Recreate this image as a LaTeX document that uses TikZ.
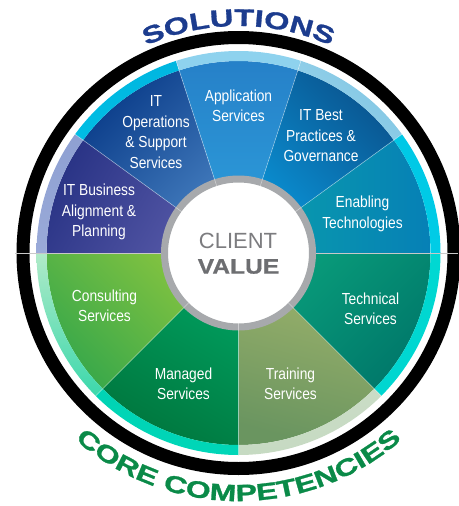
\documentclass[tikz,border=0pt]{standalone}
\usepackage{fontspec}
\setmainfont{Liberation Sans}
\newfontfamily\condfont[FakeStretch=0.86]{Liberation Sans}
\newfontfamily\extfont[FakeStretch=1.36,FakeBold=1.2]{Liberation Sans}
\newfontfamily\valfont[FakeStretch=1.17,FakeBold=0.8]{Liberation Sans}
\usetikzlibrary{decorations.text}
\definecolor{solnavy}{HTML}{1C3C8E}
\definecolor{coregreen}{HTML}{0A8A48}
\definecolor{ringgray}{HTML}{A7A9AC}
\definecolor{cvgray}{HTML}{6D6E71}
\definecolor{hline}{HTML}{C8C8C8}
\begin{document}
\begin{tikzpicture}[x=1pt,y=1pt,
  lbl/.style={text=white, align=center, font=\condfont\fontsize{16}{20.5}\selectfont, inner sep=0pt},
  sep/.style={white, opacity=0.45, line width=0.6pt}]
\useasboundingbox (0,0) rectangle (458,-506);
\coordinate (O) at (238.5,-253);
\begin{scope}[shift={(O)}]
  % black ring
  \fill[black, even odd rule] (0,0) circle[radius=222pt] (0,0) circle[radius=209pt];
  % wedges: start/end angle, top colour, bottom colour, shading angle
  \foreach \a/\b/\ca/\cb/\ang in {
      144/180/2A3486/5B5DAB/60,
      108/144/0B3D8A/4A84C4/45,
      72/108/2680C8/2DA2DE/0,
      36/72/0A5590/0A98DC/-45,
      0/36/0AA0AA/0680B6/90,
      -45/0/0AA07C/00786A/45,
      -90/-45/A2B56C/6A9560/-15,
      -135/-90/00A262/00773E/-30,
      -180/-135/8CC63F/38A84A/-45}{
    \definecolor{wa}{HTML}{\ca}\definecolor{wb}{HTML}{\cb}
    \shade[top color=wa, bottom color=wb, shading angle=\ang]
      (0,0) -- (\a:192pt) arc[start angle=\a, end angle=\b, radius=192pt] -- cycle;
  }
  % outer rim
  \foreach \a/\b/\ca/\cb/\ang in {
      144/180/8EA0D2/9AAAD8/0,
      108/144/00B6E0/00BEE4/0,
      72/108/8ED2EE/8ED2EE/0,
      36/72/7EC4E2/9AD4EC/-45,
      0/36/00C8E6/00CCE6/0,
      -45/0/00D8D2/00D6D0/0,
      -90/-45/CADCC6/C6DAC2/0,
      -135/-90/00D4B4/00D6B8/0,
      -180/-135/B0EAC8/3CD8AC/0}{
    \definecolor{wa}{HTML}{\ca}\definecolor{wb}{HTML}{\cb}
    \shade[top color=wa, bottom color=wb, shading angle=\ang]
      (\a:192pt) arc[start angle=\a, end angle=\b, radius=192pt]
      -- (\b:202pt) arc[start angle=\b, end angle=\a, radius=202pt] -- cycle;
  }
  % centre
  \fill[white] (0,0) circle[radius=71pt];
  \draw[ringgray, line width=7pt] (0,0) circle[radius=74pt];
  % separators
  \foreach \a in {36,72,108,144,-45,-90,-135}
    \draw[sep] (\a:70pt) -- (\a:202pt);
\end{scope}
% horizontal line (hidden behind the centre circle)
\coordinate (hl) at (15,-253);
\coordinate (hr) at (458,-253);
\coordinate (hcl) at (161,-253);
\coordinate (hcr) at (316,-253);
\draw[hline, line width=0.6pt] (hl) -- (hcl);
\draw[hline, line width=0.6pt] (hcr) -- (hr);
% labels
\node[lbl] (itops)   at (156,-132)   {IT\\Operations\\\& Support\\Services};
\node[lbl] (itbiz)   at (99,-212)    {IT Business\\Alignment \&\\Planning};
\node[lbl] (app)     at (238.5,-106) {Application\\Services};
\node[lbl] (itbest)  at (321,-136)   {IT Best\\Practices \&\\Governance};
\node[lbl] (enab)    at (362.5,-214) {Enabling\\Technologies};
\node[lbl] (tech)    at (370.5,-309) {Technical\\Services};
\node[lbl] (train)   at (290.5,-384) {Training\\Services};
\node[lbl] (managed) at (183.5,-384) {Managed\\Services};
\node[lbl] (consult) at (104.5,-306) {Consulting\\Services};
% centre text
\node[text=cvgray!90, font=\fontsize{22}{22}\selectfont, inner sep=0pt] (client) at (238,-241) {CLIENT};
\node[text=cvgray, font=\valfont\bfseries\fontsize{21}{21}\selectfont, inner sep=0pt] (value) at (238.5,-266.5) {VALUE};
% arc titles
\path[decorate, decoration={text along path, text align=center,
   text={|\extfont\bfseries\fontsize{24}{24}\selectfont\color{solnavy}|SOLUTIONS}}]
   (O) ++(150:227pt) arc[start angle=150, end angle=30, radius=227pt];
\path[decorate, decoration={text along path, text align=center,
   text={|\extfont\bfseries\fontsize{23.5}{23.5}\selectfont\color{coregreen}|CORE COMPETENCIES}}]
   (O) ++(200:248pt) arc[start angle=200, end angle=340, radius=248pt];
\end{tikzpicture}
\end{document}
